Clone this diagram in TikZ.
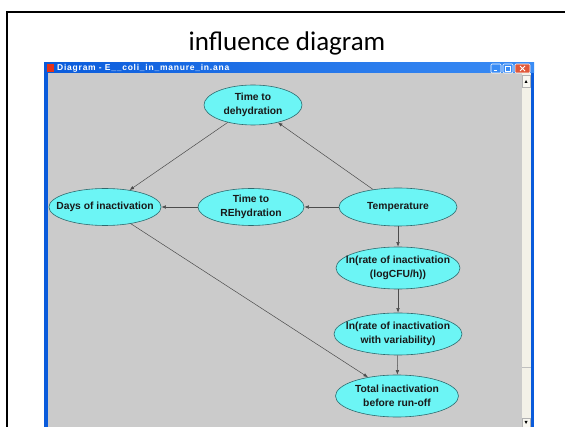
\documentclass[tikz,border=0pt]{standalone}
\usepackage{fontspec}
\setmainfont{Liberation Sans}
\newfontfamily\titlefont{Carlito}
\newfontfamily\barfont[LetterSpace=9]{Liberation Sans}
\usetikzlibrary{arrows.meta,shapes.geometric}
\definecolor{cNode}{HTML}{6CF5F5}
\definecolor{cNodeEdge}{HTML}{2E6A6E}
\definecolor{cCanvas}{HTML}{CBCBCB}
\definecolor{cBar}{HTML}{0A5BDB}
\definecolor{cBarLight}{HTML}{3A8CF5}
\definecolor{cTrack}{HTML}{F3F1E8}
\definecolor{cClose}{HTML}{E0583A}

\begin{document}
\begin{tikzpicture}[
    x=1pt, y=-1pt,
    var/.style={ellipse, draw=cNodeEdge, fill=cNode, line width=0.6pt, inner xsep=-9pt, inner ysep=1pt, align=center, font=\fontsize{10.3}{13.5}\selectfont\bfseries, text=black!90},
    arr/.style={-{Latex[length=4.5pt,width=3.5pt]}, line width=0.5pt, black!70},
    btn/.style={draw=white, line width=0.6pt, rounded corners=1pt},
]
\useasboundingbox (0,0) rectangle (565,427);
\fill[white] (0,0) rectangle (565,427);

% slide frame and title
\draw[line width=2pt] (7,428) -- (7,12) -- (566,12);
\node[font=\titlefont\fontsize{27}{30}\selectfont] (title) at (287,43) {influence diagram};

% window
\fill[cCanvas] (44,63) rectangle (534,427);
\fill[cBar] (44,63) rectangle (48,427);
\fill[cBar] (531,63) rectangle (534,427);
\shade[left color=cBar, right color=cBarLight] (44,63) rectangle (534,73);
\fill[red!60!brown] (47,64) rectangle (54,72);
\node[anchor=west, inner sep=0pt, text=white, font=\barfont\fontsize{8.5}{9}\selectfont\bfseries] (wintitle) at (57,68.5) {Diagram - E\_\_coli\_in\_manure\_in.ana};
\draw[btn, fill=cBarLight] (491,64) rectangle (501,73);
\draw[white, line width=1pt] (493.5,71) -- (497,71);
\draw[btn, fill=cBarLight] (503,64) rectangle (513,73);
\draw[white, line width=0.6pt] (505.5,66.5) rectangle (510.5,71);
\draw[btn, fill=cClose] (515,64) rectangle (530,73);
\draw[white, line width=1pt] (520,66) -- (525,71) (525,66) -- (520,71);

% scroll bar
\fill[cTrack] (522,73) rectangle (531,427);
\draw[black!25] (522,367) -- (531,367);
\draw[black!30, fill=cTrack!60!white] (522,75) rectangle (530,87);
\fill[black] (524.5,83) -- (527.5,83) -- (526,80) -- cycle;
\draw[black!30, fill=cTrack!60!white] (522,418) rectangle (530,428);
\fill[black] (524.5,421) -- (527.5,421) -- (526,424) -- cycle;

% variables
\node[var, minimum width=98pt, minimum height=40pt] (dehyd) at (253,105) {Time to\\dehydration};
\node[var, minimum width=108pt, minimum height=37pt] (days) at (105,207) {Days of inactivation};
\node[var, minimum width=106pt, minimum height=37pt] (rehyd) at (251,207) {Time to\\REhydration};
\node[var, minimum width=118pt, minimum height=38pt] (temp) at (398,207) {Temperature};
\node[var, minimum width=124pt, minimum height=42pt] (lnrate) at (398,268) {ln(rate of inactivation\\(logCFU/h))};
\node[var, minimum width=128pt, minimum height=42pt] (lnvar) at (398,334) {ln(rate of inactivation\\with variability)};
\node[var, minimum width=123pt, minimum height=42pt] (total) at (397,396) {Total inactivation\\before run-off};

% influences
\draw[arr] (temp) -- (dehyd);
\draw[arr] (dehyd) -- (days);
\draw[arr] (temp) -- (rehyd);
\draw[arr] (rehyd) -- (days);
\draw[arr] (temp) -- (lnrate);
\draw[arr] (lnrate) -- (lnvar);
\draw[arr] (lnvar) -- (total);
\draw[arr] (days) -- (total);

\end{tikzpicture}
\end{document}
